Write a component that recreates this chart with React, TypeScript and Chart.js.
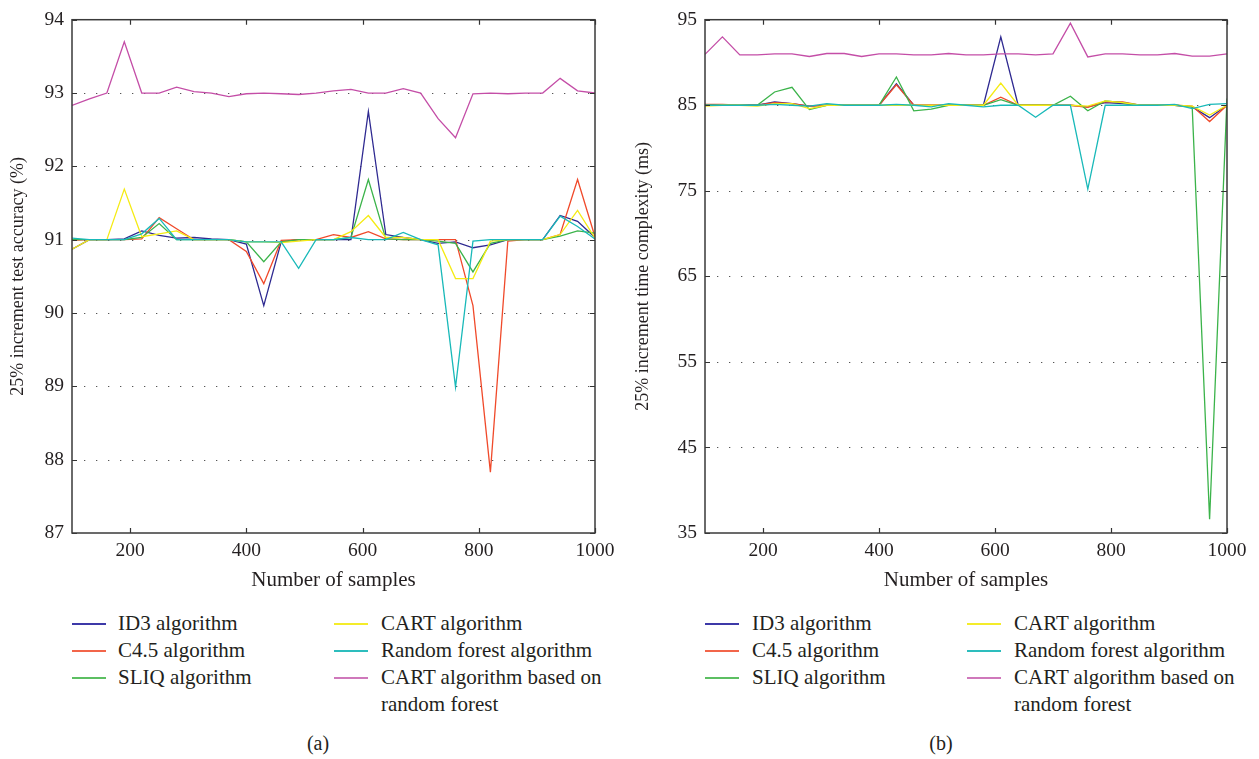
import React, { useEffect, useRef } from "react";
import { Chart, registerables } from "chart.js";

Chart.register(...registerables);

// ---------------- DATA ----------------
const samples = [100, 130, 160, 190, 220, 250, 280, 310, 340, 370, 400, 430, 460, 490, 520, 550, 580, 610, 640, 670, 700, 730, 760, 790, 820, 850, 880, 910, 940, 970, 1000];

const seriesNames = ["ID3 algorithm", "C4.5 algorithm", "SLIQ algorithm", "CART algorithm", "Random forest algorithm", "CART algorithm based on random forest"];

// (a) 25% increment test accuracy (%)
const accID3 = [90.87, 91.0, 91.0, 91.01, 91.12, 91.06, 91.02, 91.03, 91.01, 91.0, 90.94, 90.10, 90.97, 91.0, 91.0, 91.0, 91.0, 92.75, 91.07, 91.03, 91.0, 90.95, 90.97, 90.89, 90.93, 91.0, 91.0, 91.0, 91.33, 91.25, 91.03];
const accC45 = [90.99, 91.0, 91.0, 91.0, 91.01, 91.30, 91.15, 91.0, 91.0, 91.0, 90.84, 90.40, 90.99, 91.0, 91.0, 91.07, 91.03, 91.11, 91.01, 91.0, 91.0, 91.0, 91.0, 90.10, 87.83, 90.98, 91.0, 91.0, 91.07, 91.82, 91.04];
const accSLIQ = [91.0, 91.0, 91.0, 91.0, 91.03, 91.22, 91.0, 91.0, 91.0, 91.0, 90.97, 90.70, 90.97, 91.0, 91.0, 91.0, 91.03, 91.82, 91.01, 91.0, 91.0, 90.98, 90.95, 90.56, 90.95, 91.0, 91.0, 91.0, 91.05, 91.12, 91.09];
const accCART = [90.87, 91.0, 91.0, 91.69, 91.04, 91.08, 91.12, 91.0, 91.0, 91.0, 90.97, 90.97, 90.96, 90.98, 91.0, 91.0, 91.11, 91.33, 91.03, 91.03, 91.0, 91.0, 90.47, 90.47, 90.98, 91.0, 91.0, 91.0, 91.07, 91.40, 91.02];
const accRF = [91.02, 91.0, 91.0, 91.0, 91.08, 91.29, 91.0, 91.0, 91.0, 91.0, 90.97, 90.97, 90.97, 90.61, 91.0, 91.0, 91.03, 91.0, 91.0, 91.10, 91.0, 90.93, 88.99, 90.98, 91.0, 91.0, 91.0, 91.0, 91.32, 91.18, 91.01];
const accCARTRF = [92.83, 92.92, 93.0, 93.70, 93.0, 93.0, 93.08, 93.02, 93.0, 92.95, 92.99, 93.0, 92.99, 92.98, 93.0, 93.03, 93.05, 93.0, 93.0, 93.06, 93.0, 92.65, 92.39, 92.99, 93.0, 92.99, 93.0, 93.0, 93.20, 93.03, 93.0];

// (b) 25% increment time complexity (ms)
const timeID3 = [85.0, 85.0, 85.0, 85.0, 85.4, 85.2, 84.9, 85.0, 85.0, 85.0, 85.0, 87.5, 85.0, 85.0, 85.0, 85.0, 85.0, 93.0, 85.0, 85.0, 85.0, 85.0, 84.8, 85.3, 85.2, 85.0, 85.0, 85.0, 84.8, 83.55, 85.0];
const timeC45 = [85.1, 85.1, 85.0, 85.0, 85.3, 85.2, 84.9, 85.0, 85.0, 85.0, 85.0, 87.4, 85.0, 85.0, 85.0, 85.0, 85.0, 85.95, 85.0, 85.0, 85.0, 85.0, 84.75, 85.4, 85.4, 85.0, 85.0, 85.0, 84.9, 83.1, 85.0];
const timeSLIQ = [85.0, 85.0, 85.0, 85.0, 86.55, 87.1, 84.5, 85.0, 85.0, 85.0, 85.0, 88.3, 84.35, 84.55, 85.0, 85.0, 85.0, 85.65, 85.0, 85.0, 85.0, 86.05, 84.35, 85.5, 85.3, 85.0, 85.0, 85.0, 84.8, 36.6, 85.8];
const timeCART = [84.9, 85.0, 85.0, 84.9, 85.2, 85.2, 84.6, 85.0, 85.0, 85.0, 85.0, 85.0, 85.0, 85.0, 85.0, 85.0, 85.0, 87.6, 85.0, 85.0, 85.0, 85.0, 84.9, 85.5, 85.3, 85.0, 85.0, 85.0, 84.9, 83.85, 85.0];
const timeRF = [85.0, 85.0, 85.0, 85.0, 85.1, 85.0, 84.9, 85.2, 85.0, 85.0, 85.0, 85.1, 85.0, 84.8, 85.2, 85.0, 84.8, 85.0, 85.0, 83.6, 85.0, 85.0, 75.2, 85.0, 85.0, 85.0, 85.0, 85.1, 84.6, 85.1, 85.2];
const timeCARTRF = [90.95, 93.0, 90.88, 90.88, 91.0, 91.0, 90.7, 91.05, 91.05, 90.7, 91.0, 91.0, 90.88, 90.88, 91.05, 90.88, 90.88, 91.0, 91.0, 90.88, 91.0, 94.6, 90.65, 91.0, 91.0, 90.9, 90.9, 91.05, 90.75, 90.75, 91.0];

const xTicks = [200, 400, 600, 800, 1000];
const accTicks = [87, 88, 89, 90, 91, 92, 93, 94];
const timeTicks = [35, 45, 55, 65, 75, 85, 95];

// ---------------- STYLE ----------------
const colors = ["#2f2a91", "#f04a2b", "#3bb34a", "#f5eb14", "#19b9b9", "#c44ea7"];
const legendColors = ["#3d39a8", "#f2654a", "#5cbf62", "#f4ec2a", "#2dbdbd", "#cf78bb"];
const FONT = "'Liberation Serif', 'DejaVu Serif', serif";
const TEXT = "#231f20";

const framePlugin = {
  id: "frame",
  beforeDatasetsDraw(chart: any) {
    const { ctx, chartArea } = chart;
    const y = chart.scales.y;
    ctx.save();
    ctx.strokeStyle = "#555";
    ctx.lineWidth = 1;
    ctx.setLineDash([1.3, 10.7]);
    y.ticks.forEach((t: any) => {
      if (t.value === y.min || t.value === y.max) return;
      const py = Math.round(y.getPixelForValue(t.value)) + 0.5;
      ctx.beginPath();
      ctx.moveTo(chartArea.left + 12, py);
      ctx.lineTo(chartArea.right, py);
      ctx.stroke();
    });
    ctx.restore();
  },
  afterDatasetsDraw(chart: any) {
    const { ctx, chartArea } = chart;
    const x = chart.scales.x;
    const y = chart.scales.y;
    ctx.save();
    ctx.strokeStyle = "#333";
    ctx.lineWidth = 1.2;
    const L = 5;
    x.ticks.forEach((t: any) => {
      const px = Math.round(x.getPixelForValue(t.value)) + 0.5;
      ctx.beginPath();
      ctx.moveTo(px, chartArea.bottom);
      ctx.lineTo(px, chartArea.bottom - L);
      ctx.moveTo(px, chartArea.top);
      ctx.lineTo(px, chartArea.top + L);
      ctx.stroke();
    });
    y.ticks.forEach((t: any) => {
      const py = Math.round(y.getPixelForValue(t.value)) + 0.5;
      ctx.beginPath();
      ctx.moveTo(chartArea.left, py);
      ctx.lineTo(chartArea.left + L, py);
      ctx.moveTo(chartArea.right, py);
      ctx.lineTo(chartArea.right - L, py);
      ctx.stroke();
    });
    ctx.lineWidth = 1.5;
    ctx.strokeStyle = "#3a3a3a";
    ctx.strokeRect(chartArea.left, chartArea.top, chartArea.right - chartArea.left, chartArea.bottom - chartArea.top);
    ctx.restore();
  },
};

function makeConfig(series: number[][], yTicks: number[], yTitle: string, yWidth: number, rightPad: number) {
  const order = [5, 4, 3, 2, 1, 0];
  return {
    type: "line" as const,
    data: {
      datasets: order.map((i) => ({
        label: seriesNames[i],
        data: samples.map((s, k) => ({ x: s, y: series[i][k] })),
        borderColor: colors[i],
        backgroundColor: colors[i],
        borderWidth: 1.3,
        pointRadius: 0,
        tension: 0,
        fill: false,
      })),
    },
    options: {
      animation: false,
      responsive: false,
      devicePixelRatio: 1,
      layout: { padding: { top: 15, right: rightPad, bottom: 0, left: 0 } },
      plugins: { legend: { display: false }, tooltip: { enabled: false } },
      scales: {
        x: {
          type: "linear",
          min: 100,
          max: 1000,
          afterBuildTicks: (scale: any) => {
            scale.ticks = xTicks.map((v) => ({ value: v }));
          },
          afterFit: (scale: any) => {
            scale.height = 67;
          },
          grid: { display: false, drawTicks: false },
          border: { display: false },
          ticks: { padding: 6, color: TEXT, font: { family: FONT, size: 19.5 }, maxRotation: 0, callback: (v: any) => String(v) },
          title: { display: true, text: "Number of samples", color: TEXT, font: { family: FONT, size: 21 }, padding: { top: 0, bottom: 7.4 } },
        },
        y: {
          type: "linear",
          min: yTicks[0],
          max: yTicks[yTicks.length - 1],
          afterBuildTicks: (scale: any) => {
            scale.ticks = yTicks.map((v) => ({ value: v }));
          },
          afterFit: (scale: any) => {
            scale.width = yWidth;
          },
          grid: { display: false, drawTicks: false },
          border: { display: false },
          ticks: { padding: 8, color: TEXT, font: { family: FONT, size: 19.5 }, callback: (v: any) => String(v) },
          title: { display: true, text: yTitle, color: TEXT, font: { family: FONT, size: 18 }, padding: { top: 7, bottom: 0 } },
        },
      },
    },
    plugins: [framePlugin],
  };
}

function ChartCanvas(props: { left: number; width: number; series: number[][]; yTicks: number[]; yTitle: string; yWidth: number; rightPad: number }) {
  const ref = useRef<HTMLCanvasElement | null>(null);
  useEffect(() => {
    if (!ref.current) return;
    const chart = new Chart(ref.current, makeConfig(props.series, props.yTicks, props.yTitle, props.yWidth, props.rightPad) as any);
    return () => chart.destroy();
  }, []);
  return (
    <canvas
      ref={ref}
      width={props.width}
      height={600}
      style={{ position: "absolute", left: props.left, top: 0, width: props.width, height: 600 }}
    />
  );
}

function Legend(props: { lineL: number; textL: number; lineR: number; textR: number }) {
  const rows = [624, 651, 678];
  const item = (idx: number, lx: number, tx: number, cy: number) => (
    <React.Fragment key={"it" + idx}>
      <div style={{ position: "absolute", left: lx, top: cy - 1, width: 34, height: 2, background: legendColors[idx] }} />
      <div style={{ position: "absolute", left: tx, top: cy - 14, fontFamily: FONT, fontSize: 21, lineHeight: "27px", color: TEXT, whiteSpace: "nowrap" }}>
        {idx === 5 ? (
          <>
            CART algorithm based on
            <br />
            random forest
          </>
        ) : (
          seriesNames[idx]
        )}
      </div>
    </React.Fragment>
  );
  return (
    <>
      {item(0, props.lineL, props.textL, rows[0])}
      {item(1, props.lineL, props.textL, rows[1])}
      {item(2, props.lineL, props.textL, rows[2])}
      {item(3, props.lineR, props.textR, rows[0])}
      {item(4, props.lineR, props.textR, rows[1])}
      {item(5, props.lineR, props.textR, rows[2])}
    </>
  );
}

export default function App() {
  const accSeries = [accID3, accC45, accSLIQ, accCART, accRF, accCARTRF];
  const timeSeries = [timeID3, timeC45, timeSLIQ, timeCART, timeRF, timeCARTRF];
  return (
    <div style={{ position: "absolute", left: 0, top: 0, width: 1259, height: 759, background: "#fff", overflow: "hidden" }}>
      <ChartCanvas left={0} width={625} series={accSeries} yTicks={accTicks} yTitle="25% increment test accuracy (%)" yWidth={72} rightPad={30} />
      <ChartCanvas left={625} width={632} series={timeSeries} yTicks={timeTicks} yTitle="25% increment time complexity (ms)" yWidth={80} rightPad={30} />
      <Legend lineL={72} textL={118} lineR={334} textR={381} />
      <Legend lineL={705} textL={752} lineR={967} textR={1014} />
      <div style={{ position: "absolute", left: 318, top: 743, transform: "translate(-50%, -50%)", fontFamily: FONT, fontSize: 20, color: TEXT }}>(a)</div>
      <div style={{ position: "absolute", left: 941, top: 743, transform: "translate(-50%, -50%)", fontFamily: FONT, fontSize: 20, color: TEXT }}>(b)</div>
    </div>
  );
}
